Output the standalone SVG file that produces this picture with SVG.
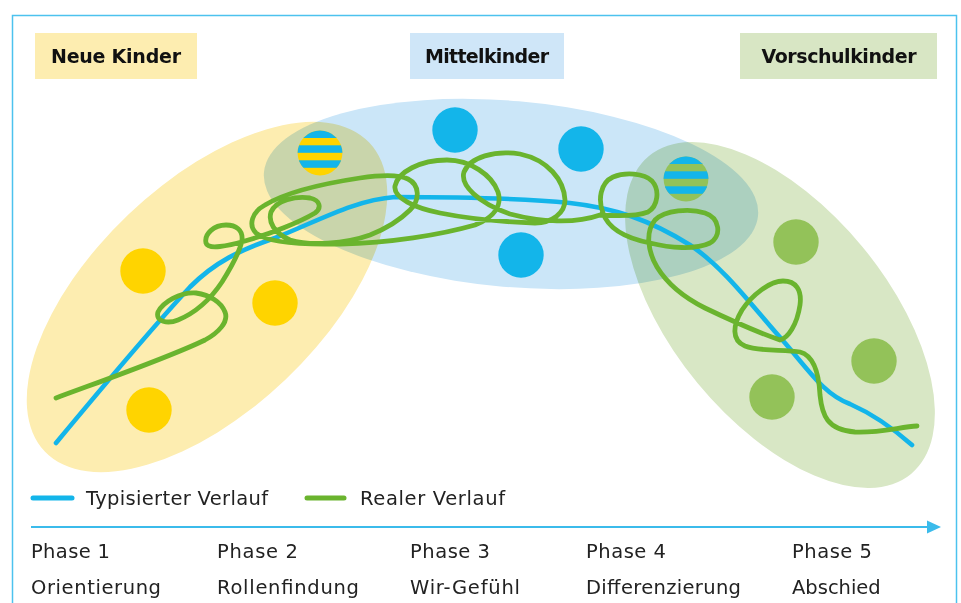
<svg xmlns="http://www.w3.org/2000/svg" width="961" height="603" viewBox="0 0 961 603">
  <style>
    .zone { mix-blend-mode: multiply; }
    .tag-text { font-family: "DejaVu Sans", "Liberation Sans", sans-serif; font-weight: bold; font-size: 19px; fill: #111; text-anchor: middle; }
    .txt { font-family: "DejaVu Sans", "Liberation Sans", sans-serif; font-size: 19.5px; fill: #222; }
    .kid-y { fill: #ffd400; }
    .kid-b { fill: #13b5ea; }
    .kid-g { fill: #93c259; }
    .typ { fill: none; stroke: #13b5ea; stroke-width: 4.6; stroke-linecap: round; stroke-linejoin: round; }
    .real { fill: none; stroke: #6ab42e; stroke-width: 4.8; stroke-linecap: round; stroke-linejoin: round; }
  </style>
  <defs>
    <clipPath id="clipKid1"><circle cx="320" cy="153" r="22.4"/></clipPath>
    <clipPath id="clipKid2"><circle cx="686" cy="179" r="22.4"/></clipPath>
  </defs>

  <rect x="0" y="0" width="961" height="603" fill="#ffffff"/>
  <!-- frame -->
  <rect x="12.5" y="15.5" width="944" height="620" fill="none" stroke="#4cc2ee" stroke-width="1.5"/>

  <!-- group zones -->
  <g id="zone-neue">
    <ellipse class="zone" cx="207" cy="297" rx="224" ry="114" transform="rotate(-43.6 207 297)" fill="#fdedb0"/>
  </g>
  <g id="zone-mittel">
    <ellipse class="zone" cx="511" cy="194" rx="248" ry="93" transform="rotate(5 511 194)" fill="#cbe6f8"/>
  </g>
  <g id="zone-vorschul">
    <ellipse class="zone" cx="780" cy="315" rx="206" ry="107" transform="rotate(50.5 780 315)" fill="#d8e7c5"/>
  </g>

  <!-- group titles -->
  <g id="tag-neue">
    <rect x="35" y="33" width="162" height="46" fill="#fdedb0"/>
    <text class="tag-text" x="116" y="63" textLength="130">Neue Kinder</text>
  </g>
  <g id="tag-mittel">
    <rect x="410" y="33" width="154" height="46" fill="#cfe6f8"/>
    <text class="tag-text" x="487" y="63" textLength="124">Mittelkinder</text>
  </g>
  <g id="tag-vorschul">
    <rect x="740" y="33" width="197" height="46" fill="#d8e6c4"/>
    <text class="tag-text" x="839" y="63" textLength="155">Vorschulkinder</text>
  </g>

  <!-- children -->
  <g id="kids-neue">
    <circle class="kid-y" cx="143" cy="271" r="22.7"/>
    <circle class="kid-y" cx="275" cy="303" r="22.7"/>
    <circle class="kid-y" cx="149" cy="410" r="22.7"/>
  </g>
  <g id="kids-mittel">
    <circle class="kid-b" cx="455" cy="130" r="22.7"/>
    <circle class="kid-b" cx="581" cy="149" r="22.7"/>
    <circle class="kid-b" cx="521" cy="255" r="22.7"/>
  </g>
  <g id="kids-vorschul">
    <circle class="kid-g" cx="796" cy="242" r="22.7"/>
    <circle class="kid-g" cx="874" cy="361" r="22.7"/>
    <circle class="kid-g" cx="772" cy="397" r="22.7"/>
  </g>
  <!-- children in transition: banded discs -->
  <g id="kid-transition-1" clip-path="url(#clipKid1)">
    <rect class="kid-y" x="297" y="130" width="46" height="46"/>
    <rect class="kid-b" x="297" y="130" width="46" height="8"/>
    <rect class="kid-b" x="297" y="145.3" width="46" height="7.5"/>
    <rect class="kid-b" x="297" y="160.3" width="46" height="7.5"/>
  </g>
  <g id="kid-transition-2" clip-path="url(#clipKid2)">
    <rect class="kid-g" x="663" y="156" width="46" height="46"/>
    <rect class="kid-b" x="663" y="156" width="46" height="8"/>
    <rect class="kid-b" x="663" y="171.3" width="46" height="7.5"/>
    <rect class="kid-b" x="663" y="186.3" width="46" height="7.5"/>
  </g>

  <!-- trajectories -->
  <g id="connectors">
    <path class="typ" d="M56,443 C100,390 150,330 190,287 C215,262 240,250 275,238 C320,220 355,200 395,197 C460,197 520,198 570,203 C615,208 650,220 690,245 C725,268 755,310 785,343 C810,372 825,395 850,404 C875,415 895,430 912,445"/>
    <path class="real" d="M56,398
      C110,378 170,357 205,340
      C218,333 229,322 225,312
      C221,302 210,295 196,293
      C180,292 163,302 158,312
      C155,322 168,324 178,320
      C195,313 210,300 222,282
      C232,266 240,252 242,240
      C243,230 236,225 226,225
      C214,225 204,234 206,243
      C208,250 228,246 245,241
      C270,234 300,222 315,213
      C322,208 320,200 310,198
      C296,196 276,200 271,212
      C268,222 274,233 290,240
      C310,246 345,244 370,235
      C385,229 400,220 410,210
      C420,200 420,185 408,179
      C398,174 380,175 360,178
      C320,184 285,193 265,205
      C252,212 248,225 256,233
      C268,243 300,245 340,244
      C390,243 440,235 475,225
      C495,217 502,205 498,192
      C492,175 470,160 447,160
      C420,160 398,172 395,186
      C393,198 415,208 440,213
      C470,219 505,222 535,223
      C552,223 565,213 565,200
      C564,180 548,160 520,154
      C495,150 470,157 464,172
      C460,185 478,203 510,214
      C540,222 575,224 600,215
      C615,216 635,217 648,212
      C658,206 660,190 652,181
      C644,173 625,172 613,177
      C600,183 598,200 603,213
      C608,228 625,238 650,243
      C670,248 695,250 710,243
      C722,236 720,218 705,213
      C690,208 665,210 655,220
      C645,232 648,252 657,267
      C668,285 685,298 705,308
      C730,320 760,333 780,340
      C788,338 797,325 800,305
      C802,290 796,281 783,281
      C770,281 752,295 742,310
      C733,325 731,340 745,346
      C760,352 785,349 800,352
      C815,356 819,375 820,395
      C822,415 827,430 855,432
      C880,433 900,427 917,426"/>
  </g>

  <!-- legend -->
  <g id="legend">
    <line x1="33" y1="498" x2="72" y2="498" stroke="#13b5ea" stroke-width="5" stroke-linecap="round"/>
    <text class="txt" x="86" y="505" textLength="182">Typisierter Verlauf</text>
    <line x1="307" y1="498" x2="344" y2="498" stroke="#6ab42e" stroke-width="5" stroke-linecap="round"/>
    <text class="txt" x="360" y="505" textLength="145">Realer Verlauf</text>
  </g>

  <!-- time axis with phases -->
  <g id="timeline">
    <line x1="31" y1="527" x2="929" y2="527" stroke="#3bbbeb" stroke-width="2"/>
    <polygon points="927,520.5 941,527 927,533.5" fill="#3bbbeb"/>
    <text class="txt" x="31" y="558" textLength="79">Phase 1</text>
    <text class="txt" x="217" y="558" textLength="81">Phase 2</text>
    <text class="txt" x="410" y="558" textLength="80">Phase 3</text>
    <text class="txt" x="586" y="558" textLength="80">Phase 4</text>
    <text class="txt" x="792" y="558" textLength="80">Phase 5</text>
    <text class="txt" x="31" y="594" textLength="130">Orientierung</text>
    <text class="txt" x="217" y="594" textLength="142">Rollenfindung</text>
    <text class="txt" x="410" y="594" textLength="110">Wir-Gefühl</text>
    <text class="txt" x="586" y="594" textLength="155">Differenzierung</text>
    <text class="txt" x="792" y="594">Abschied</text>
  </g>
</svg>
